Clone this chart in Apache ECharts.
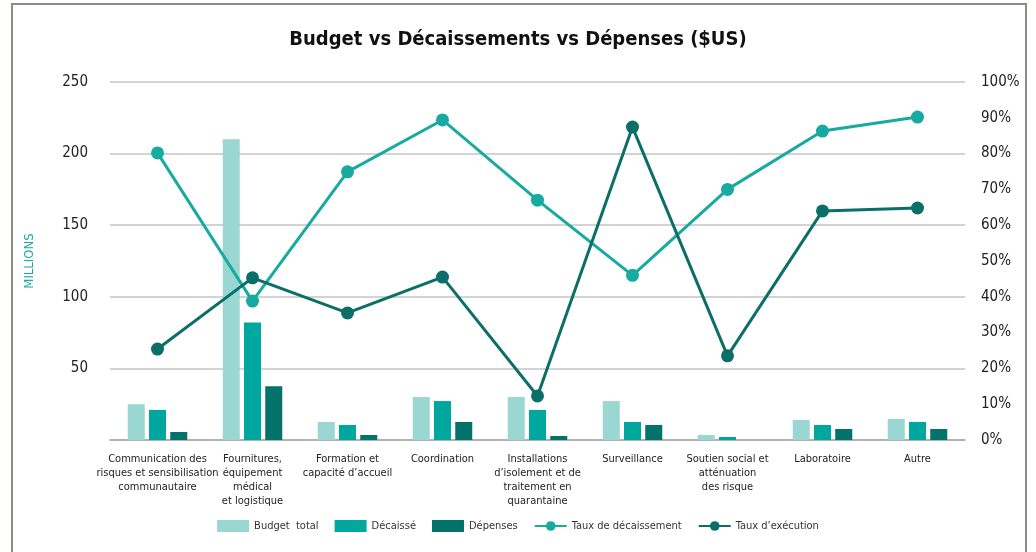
<!DOCTYPE html>
<html lang="fr">
<head>
  <meta charset="UTF-8">
  <title>Budget vs Décaissements vs Dépenses</title>
  <style>
    body { margin: 0; padding: 0; background: #fff; }
    #chart { width: 1036px; height: 552px; }
  </style>
</head>
<body>
  <div id="chart"></div>
  <script src="https://cdn.jsdelivr.net/npm/echarts@6/dist/echarts.min.js"></script>
  <script>
    var FONT = '"DejaVu Sans Condensed", "Liberation Sans Narrow", "Roboto", sans-serif';

    var categories = [
      'Communication des\nrisques et sensibilisation\ncommunautaire',
      'Fournitures,\néquipement\nmédical\net logistique',
      'Formation et\ncapacité d\u2019accueil',
      'Coordination',
      'Installations\nd\u2019isolement et de\ntraitement en\nquarantaine',
      'Surveillance',
      'Soutien social et\natténuation\ndes risque',
      'Laboratoire',
      'Autre'
    ];
    // millions $US
    var budgetTotal = [25, 210, 12.6, 30, 30, 27.2, 3.5, 14, 14.7];
    var decaisse    = [21, 82, 10.5, 27.2, 21, 12.6, 2.1, 10.5, 12.6];
    var depenses    = [5.6, 37.5, 3.5, 12.6, 2.8, 10.5, 0, 7.7, 7.7];
    // %
    var tauxDecaissement = [80.2, 38.8, 74.9, 89.4, 67, 46, 70, 86.3, 90.2];
    var tauxExecution    = [25.4, 45.3, 35.5, 45.5, 12.3, 87.4, 23.5, 64, 64.8];

    var chart = echarts.init(document.getElementById('chart'));

    var option = {
      backgroundColor: '#fff',
      textStyle: { fontFamily: FONT },
      title: {
        text: 'Budget vs Décaissements vs Dépenses ($US)',
        left: 'center',
        top: 25,
        textStyle: { fontFamily: FONT, fontSize: 20, fontWeight: 'bold', color: '#111' }
      },
      graphic: [{
        type: 'rect',
        shape: { x: 12, y: 4, width: 1014, height: 600 },
        style: { fill: 'none', stroke: '#8e8e86', lineWidth: 2 },
        silent: true
      }],
      legend: {
        bottom: 15,
        left: 'center',
        itemGap: 16,
        itemWidth: 32,
        itemHeight: 12,
        textStyle: { fontFamily: FONT, fontSize: 11, color: '#333' },
        data: [
          { name: 'Budget  total', icon: 'rect' },
          { name: 'Décaissé', icon: 'rect' },
          { name: 'Dépenses', icon: 'rect' },
          'Taux de décaissement',
          'Taux d\u2019exécution'
        ]
      },
      grid: { left: 110, right: 71, top: 82, bottom: 112 },
      xAxis: {
        type: 'category',
        data: categories,
        axisLine: { lineStyle: { color: '#a8a8a8', width: 1.5 } },
        axisTick: { show: false },
        axisLabel: {
          interval: 0,
          margin: 12,
          fontFamily: FONT,
          fontSize: 11,
          lineHeight: 14,
          color: '#222'
        }
      },
      yAxis: [{
        type: 'value',
        min: 0,
        max: 250,
        interval: 50,
        name: 'MILLIONS',
        nameLocation: 'middle',
        nameRotate: 90,
        nameGap: 74,
        nameTextStyle: { color: '#1aab9f', fontFamily: FONT, fontSize: 13 },
        axisLine: { show: false },
        axisTick: { show: false },
        splitLine: { lineStyle: { color: '#c4c4c4', width: 1.5 } },
        axisLabel: {
          margin: 22,
          fontFamily: FONT,
          fontSize: 15,
          color: '#222',
          formatter: function (v) { return v === 0 ? '' : v; }
        }
      }, {
        type: 'value',
        min: 0,
        max: 100,
        interval: 10,
        axisLine: { show: false },
        axisTick: { show: false },
        splitLine: { show: false },
        axisLabel: {
          margin: 16,
          fontFamily: FONT,
          fontSize: 15,
          color: '#222',
          formatter: '{value}%'
        }
      }],
      series: [{
        name: 'Budget  total',
        type: 'bar',
        data: budgetTotal,
        barWidth: 17,
        barGap: '25%',
        itemStyle: { color: '#9ad6d2' }
      }, {
        name: 'Décaissé',
        type: 'bar',
        data: decaisse,
        barWidth: 17,
        barGap: '25%',
        itemStyle: { color: '#00a79e' }
      }, {
        name: 'Dépenses',
        type: 'bar',
        data: depenses,
        barWidth: 17,
        barGap: '25%',
        itemStyle: { color: '#03726a' }
      }, {
        name: 'Taux de décaissement',
        type: 'line',
        yAxisIndex: 1,
        data: tauxDecaissement,
        symbol: 'circle',
        symbolSize: 13,
        z: 5,
        lineStyle: { color: '#17aaa0', width: 3 },
        itemStyle: { color: '#17aaa0' }
      }, {
        name: 'Taux d\u2019exécution',
        type: 'line',
        yAxisIndex: 1,
        data: tauxExecution,
        symbol: 'circle',
        symbolSize: 13,
        z: 5,
        lineStyle: { color: '#0b6f68', width: 3 },
        itemStyle: { color: '#0b6f68' }
      }]
    };

    chart.setOption(option);
  </script>
</body>
</html>
